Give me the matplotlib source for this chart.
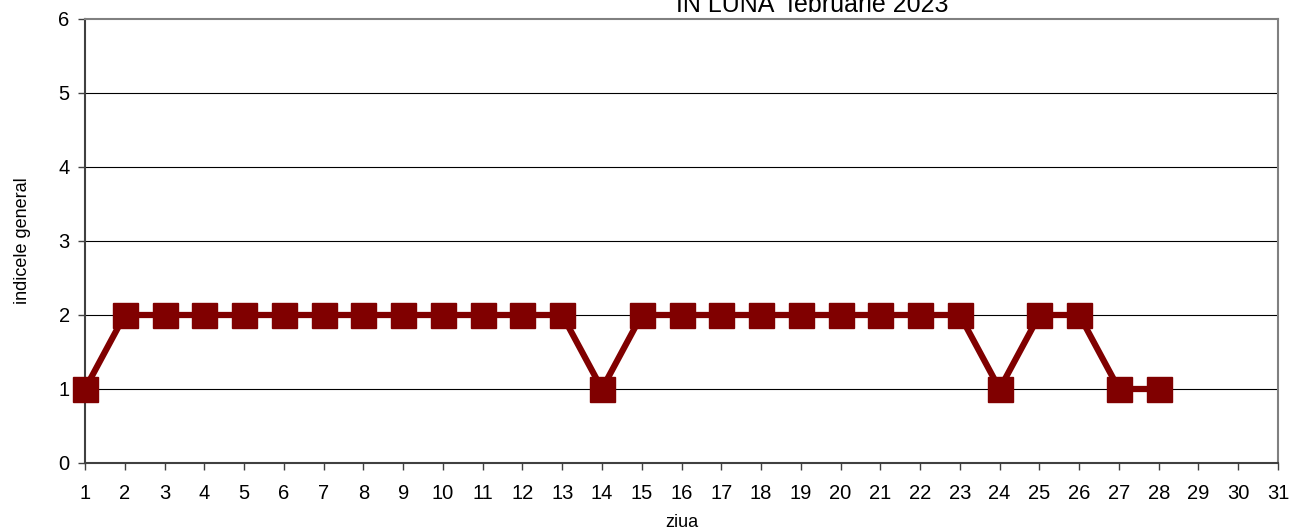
import matplotlib
matplotlib.use('Agg')
import matplotlib.pyplot as plt

plt.rcParams['font.family'] = ['Liberation Sans', 'DejaVu Sans']

# indicele general pe zile, februarie 2023
days = list(range(1, 29))
index_vals = [1, 2, 2, 2, 2, 2, 2, 2, 2, 2, 2, 2, 2, 1,
              2, 2, 2, 2, 2, 2, 2, 2, 2, 1, 2, 2, 1, 1]
x_ticks = list(range(1, 32))
y_ticks = [0, 1, 2, 3, 4, 5, 6]

fig = plt.figure(figsize=(12.89, 5.31), dpi=100)
ax = fig.add_axes([85 / 1289, 1 - 463 / 531, (1278 - 85) / 1289, (463 - 19) / 531])

for y in y_ticks[1:-1]:
    ax.axhline(y, color='black', lw=0.8, zorder=1)

ax.plot(days, index_vals, color='#800000', lw=4.5, marker='s',
        markersize=18, clip_on=False, zorder=3)

ax.set_xlim(1, 31)
ax.set_ylim(0, 6)
ax.set_xticks(x_ticks)
ax.set_yticks(y_ticks)
ax.tick_params(direction='out', length=5, width=1, color='#404040',
               labelsize=14.5, pad=6)
ax.tick_params(axis='x', pad=10)

for side in ('left', 'bottom'):
    ax.spines[side].set_color('#404040')
    ax.spines[side].set_linewidth(1.5)
for side in ('top', 'right'):
    ax.spines[side].set_color('#808080')
    ax.spines[side].set_linewidth(1.5)

ax.set_xlabel('ziua', fontsize=13, labelpad=8)
ax.set_ylabel('indicele general', fontsize=13, labelpad=20)

fig.text(812 / 1289, 1 - 12 / 531, 'IN LUNA  februarie 2023', ha='center',
         va='baseline', fontsize=18)

fig.savefig('out.png', dpi=100)
